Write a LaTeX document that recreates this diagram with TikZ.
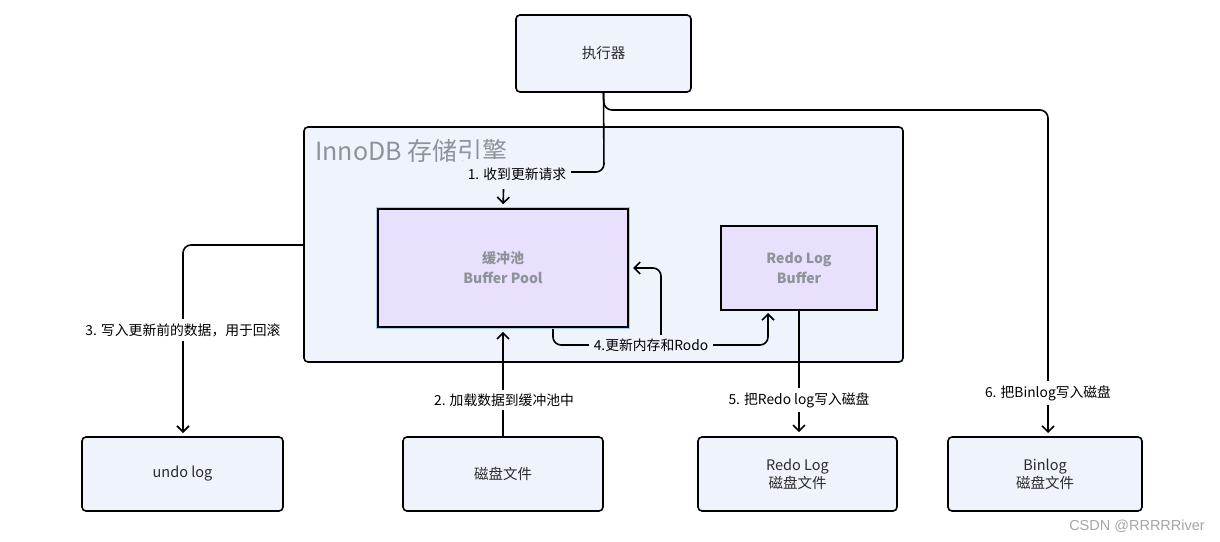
\documentclass[tikz,border=0pt]{standalone}
\usepackage{fontspec}
\setmainfont{Noto Sans CJK SC}
\newfontfamily\wmfont{Liberation Sans}
\usetikzlibrary{arrows.meta}
\definecolor{boxfill}{HTML}{EEF3FC}
\definecolor{lav}{HTML}{E8E0FC}
\definecolor{glow}{HTML}{A9C4F5}
\definecolor{titlegray}{HTML}{8E939B}
\definecolor{txt}{HTML}{2B2B2B}
\begin{document}
\begin{tikzpicture}[x=1pt,y=-1pt,
  box/.style={draw=black, line width=1.6pt, fill=boxfill, rounded corners=4pt,
    font=\fontsize{14.5}{18}\selectfont, text=txt, align=center, inner sep=0pt},
  lavbox/.style={draw=black, line width=1.6pt, fill=lav, align=center, inner sep=0pt,
    font=\fontsize{14}{20}\selectfont\bfseries, text=titlegray},
  conn/.style={draw=black, line width=1.6pt, rounded corners=8pt,
    -{Straight Barb[length=6pt,width=12pt,line width=1.6pt]}},
  lbl/.style={font=\fontsize{13.8}{17}\selectfont, text=black, fill=white, inner xsep=5pt, inner ysep=4pt},
  lblin/.style={lbl, fill=boxfill}
]
\useasboundingbox (0,0) rectangle (1220,541);
\fill[white] (0,0) rectangle (1220,541);

% container
\node[draw=black, line width=1.6pt, fill=boxfill, rounded corners=4pt,
  minimum width=599pt, minimum height=235pt, inner sep=0pt] (cont) at (603.5,244.5) {};
\node[anchor=west, text=titlegray, font=\fontsize{25}{30}\selectfont, inner sep=0pt] (title) at (315,151) {InnoDB 存储引擎};

% boxes
\node[box, minimum width=175pt, minimum height=77pt] (exec) at (603.5,53.5) {执行器};
\node[lavbox, minimum width=250pt, minimum height=118pt,
  preaction={draw=glow, line width=3.6pt}] (bp) at (503,268) {缓冲池\\Buffer Pool};
\node[lavbox, line width=2pt, minimum width=156pt, minimum height=84pt] (rlb) at (799,268) {Redo Log\\Buffer};
\node[box, minimum width=201pt, minimum height=74pt] (undo) at (182.5,474) {undo log};
\node[box, minimum width=200pt, minimum height=74pt] (disk) at (503,474) {磁盘文件};
\node[box, minimum width=199pt, minimum height=74pt] (redo) at (797.5,474) {Redo Log\\磁盘文件};
\node[box, minimum width=194pt, minimum height=74pt] (binlog) at (1045,474) {Binlog\\磁盘文件};

% coordinates
\coordinate (e1) at (604,172);
\coordinate (e2) at (504,172);
\coordinate (b1) at (604,110);
\coordinate (b2) at (1048,110);
\coordinate (b3) at (1048,433);
\coordinate (u1) at (183,245);
\coordinate (u2) at (183,433);
\coordinate (f1) at (553,329);
\coordinate (f2) at (553,345);
\coordinate (f3) at (768,345);
\coordinate (f4) at (768,313);
\coordinate (g1) at (661,345);
\coordinate (g2) at (661,268);
\coordinate (g3) at (633,268);

% connectors
\draw[conn, shorten >=4pt] (exec.south) -- (e1) -- (e2) -- (bp.north);
\node[lblin, minimum height=30pt] (l1) at (517,174) {1. 收到更新请求};

\draw[conn] (exec.south) -- (b1) -- (b2) -- (b3);
\node[lbl] (l6) at (1048,393) {6. 把Binlog写入磁盘};

\draw[conn] (cont.west |- u1) -- (u1) -- (u2);
\node[lbl] (l3) at (183,330) {3. 写入更新前的数据，用于回滚};

\draw[conn, shorten >=4pt] (disk.north) -- (bp.south);
\node[lbl] (l2) at (504,400) {2. 加载数据到缓冲池中};

\draw[conn] (f1) -- (f2) -- (f3) -- (f4);
\draw[conn] (g1) -- (g2) -- (g3);
\node[lblin] (l4) at (651,345) {4.更新内存和Rodo};

\draw[conn, shorten >=4pt] (rlb.south) -- (rlb.south |- redo.north);
\node[lbl] (l5) at (799,400) {5. 把Redo log写入磁盘};

% watermark
\node[anchor=east, text=gray!70, font=\fontsize{14.5}{17}\selectfont\wmfont, inner sep=0pt] (wm) at (1205,526) {CSDN @RRRRRiver};
\end{tikzpicture}
\end{document}
